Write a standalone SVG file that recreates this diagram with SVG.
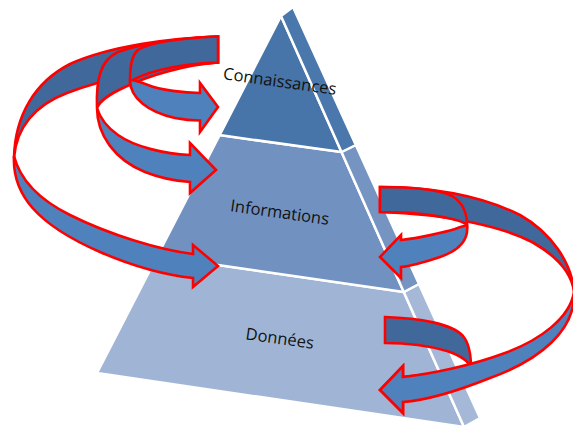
<svg xmlns="http://www.w3.org/2000/svg" width="573" height="428" viewBox="0 0 573 428">
<style>
.layer{stroke:#ffffff;stroke-width:2.5;stroke-linejoin:round}
.lbl{font-family:"Open Sans","Noto Sans","Liberation Sans",sans-serif;font-size:16.5px;fill:#111111;text-anchor:middle}
.dark{fill:#41689B;stroke:#FF0000;stroke-width:2.6;stroke-linejoin:miter}
.light{fill:#4F81BD;stroke:#FF0000;stroke-width:2.6;stroke-linejoin:miter}
</style>
<rect width="573" height="428" fill="#ffffff"/>
<g id="donnees">
<polygon class="layer" fill="#A0B5D5" points="157.2,256.2 97,373 464,427 403.8,292"/>
<polygon class="layer" fill="#A5B8D7" points="403.8,292 419,284 480,418 464,427"/>
<text class="lbl" x="279" y="344" transform="rotate(8 279 344)">Données</text>
</g>
<g id="informations">
<polygon class="layer" fill="#7191C1" points="219.6,135.1 157.2,256.2 403.8,292 341.5,152"/>
<polygon class="layer" fill="#7694C2" points="341.5,152 355.8,145 419,284 403.8,292"/>
<text class="lbl" x="279" y="218" transform="rotate(8 279 218)">Informations</text>
</g>
<g id="connaissances">
<polygon class="layer" fill="#4774A9" points="281,16 219.6,135.1 341.5,152"/>
<polygon class="layer" fill="#4A77AC" points="281,16 293,7 355.8,145 341.5,152"/>
<text class="lbl" x="279" y="87" transform="rotate(8 279 87)">Connaissances</text>
</g>
<g id="connectors">
<g id="arrow-conn-donnees">
<path class="dark" d="M218,36.5 C170,38 110,46 70,64 C35,82 15,115 14,158 C16,128 35,105 67,93 C100,80 160,66 218,62.5 Z"/>
<path class="light" d="M14,156 C12,195 38,225 100,252 C130,265 165,275 193,278 L193,287 L218,266 L193,245 L193,254 C160,250 110,235 70,215 C40,200 20,180 14,156 Z"/>
</g>
<g id="arrow-conn-informations">
<path class="dark" d="M218,36.5 C180,38 140,44 118,52 C100,60 96,80 97,108 C100,100 110,94 125,87 C150,75 185,65 218,62.5 Z"/>
<path class="light" d="M97,108 C97,135 115,160 145,172 C160,178 175,181 190,182 L190,193 L216,170 L190,143 L190,155 C165,154 135,147 118,135 C108,128 100,118 97,108 Z"/>
</g>
<g id="arrow-conn-conn">
<path class="dark" d="M218,36.5 C185,38 150,42 138,50 C131,56 130,68 130,82 C135,78 145,74 160,70 C180,65 200,63 218,62.5 Z"/>
<path class="light" d="M130,80 C130,98 148,112 175,118 C185,120 195,120.5 200,120.5 L200,132 L218,107 L200,83 L200,93 C185,93 160,90 148,85 C140,82 134,80 130,80 Z"/>
</g>
<g id="arrow-donn-donn">
<path class="dark" d="M385,317 C420,318 452,324 463,336 C469,343 471,355 471,368 C469,362 462,356 447,351 C430,346 405,343 385,343 Z"/>
<path class="light" d="M471,368 C460,385 440,395 403,402 L403,413 L380,390 L403,366 L403,377 C430,374 450,372 471,368 Z"/>
</g>
<g id="arrow-info-donnees">
<path class="dark" d="M380,187 C430,187 480,195 520,215 C550,232 572,262 574,292 C572,275 560,258 532,242 C505,228 450,214 380,212 Z"/>
<path class="light" d="M574,292 C576,330 540,360 490,378 C460,390 430,400 403,402 L403,413 L380,390 L403,366 L403,377 C430,374 470,366 505,353 C540,340 570,318 574,292 Z"/>
</g>
<g id="arrow-info-info">
<path class="dark" d="M380,187 C415,187 440,190 452,196 C462,202 467,212 467,225 C464,222 455,219 437,216 C420,213 400,212 380,212 Z"/>
<path class="light" d="M467,225 C469,240 460,250 440,257 C425,262 412,266 401,267 L401,278 L380,257 L401,235 L401,240 C420,238 445,232 455,229 C460,227 464,226 467,225 Z"/>
</g>
</g>
</svg>
